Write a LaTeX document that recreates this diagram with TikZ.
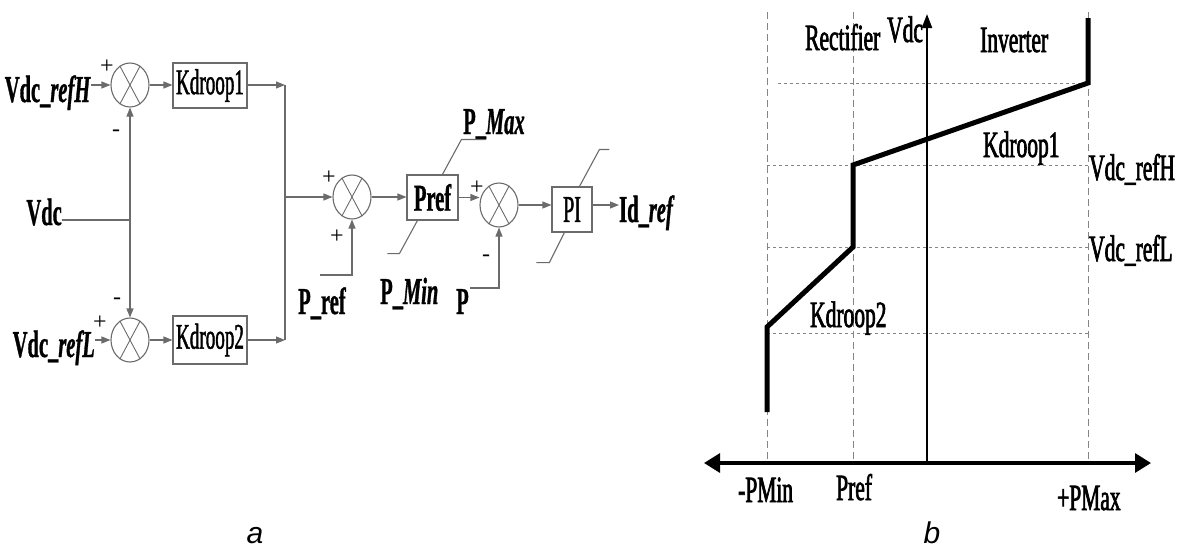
\documentclass[tikz,border=0pt]{standalone}
\usepackage{fontspec}
\setmainfont{Liberation Serif}
\newfontfamily\lfont[FakeStretch=0.54, FakeBold=0.8]{Liberation Serif}
\newfontfamily\bxfont[FakeStretch=0.53, FakeBold=1.2]{Liberation Serif}
\newfontfamily\rfont[FakeStretch=0.58, FakeBold=1.8]{Liberation Serif}
\newfontfamily\sgnfont{Liberation Serif}
\newfontfamily\capfont{Liberation Sans}
\usetikzlibrary{arrows.meta,shapes.geometric,calc}
\definecolor{lc}{gray}{0.42}
\definecolor{dc}{gray}{0.52}
\tikzset{
  arr/.style={-{Triangle[length=9pt,width=7pt]}},
  thin line/.style={draw=lc, line width=1.1pt},
  sum/.style={ellipse, draw=lc, line width=1.1pt, minimum width=38pt, minimum height=44pt, inner sep=0pt},
  blk/.style={draw=lc, line width=1.1pt, inner sep=0pt},
  lbl/.style={inner sep=0pt, font=\lfont\bfseries\fontsize{38}{40}\selectfont},
  boxtxt/.style={font=\bxfont\fontsize{36}{38}\selectfont},
  sgn/.style={inner sep=0pt, font=\sgnfont\fontsize{24}{26}\selectfont},
  clbl/.style={inner sep=0pt, font=\rfont\fontsize{37}{39}\selectfont},
  vdash/.style={draw=dc, line width=0.9pt, dash pattern=on 7pt off 4pt},
  hdash/.style={draw=dc, line width=0.9pt, dash pattern=on 3pt off 3pt},
  curve/.style={draw=black, line width=5pt, line join=miter},
  figcap/.style={inner sep=0pt, font=\capfont\itshape\fontsize{30}{32}\selectfont}
}
\begin{document}
\begin{tikzpicture}[x=1pt,y=-1pt]
\useasboundingbox (0,0) rectangle (1177,549);
% ---------------- left: block diagram ----------------
\node[sum] (s1) at (130,85) {};
\node[sum] (s2) at (130,340) {};
\node[sum] (s3) at (352,197) {};
\node[sum] (s4) at (499,205) {};
\foreach \n in {s1,s2,s3,s4}{
  \draw[draw=lc, line width=0.9pt] (\n.62) -- (\n.242) (\n.118) -- (\n.298);
}
\node[blk, boxtxt, minimum width=74pt, minimum height=45pt] (k1) at (210,85.5) {Kdroop1};
\node[blk, boxtxt, minimum width=74pt, minimum height=48pt] (k2) at (210,340) {Kdroop2};
\node[blk, lbl, minimum width=51pt, minimum height=45pt] (pref) at (432.5,197.5) {Pref};
\node[blk, boxtxt, minimum width=40pt, minimum height=45pt, font=\bxfont\fontsize{38}{40}\selectfont] (pi) at (572,209.5) {PI};

\node[lbl, anchor=base east] (vh) at (91,102) {Vdc\_\textit{refH}};
\node[lbl, anchor=base east] (vdc) at (62,225) {Vdc};
\node[lbl, anchor=base east] (vl) at (95,357) {Vdc\_\textit{refL}};
\node[lbl, anchor=base west] (pr) at (298,314) {P\_ref};
\node[lbl, anchor=base west] (pmax) at (463,134) {P\_\textit{Max}};
\node[lbl, anchor=base west] (pmin) at (380,304) {P\_\textit{Min}};
\node[lbl, anchor=base west] (pp) at (456,314) {P};
\node[lbl, anchor=base west] (idr) at (619,222) {Id\_\textit{ref}};

\coordinate (vj) at (130,220);
\coordinate (j1) at (285,85);
\coordinate (j2) at (285,340);
\coordinate (j3) at (285,197);
\coordinate (prc) at (320,275);
\coordinate (pc) at (470,288);

\draw[thin line, arr] (vh.east |- s1) -- (s1.west);
\draw[thin line, arr] (vl.east |- s2) -- (s2.west);
\draw[thin line] (vdc.east |- vj) -- (vj);
\draw[thin line, arr] (vj) -- (s1.south);
\draw[thin line, arr] (vj) -- (s2.north);
\draw[thin line, arr] (s1.east) -- (s1.east -| k1.west);
\draw[thin line, arr] (s2.east) -- (s2.east -| k2.west);
\draw[thin line, arr] (k1.east |- j1) -- (j1);
\draw[thin line, arr] (k2.east |- j2) -- (j2);
\draw[thin line] (j1) -- (j2);
\draw[thin line, arr] (j3) -- (s3.west);
\draw[thin line, arr] (prc) -| (s3.south);
\draw[thin line, arr] (s3.east) -- (s3.east -| pref.west);
\draw[thin line, arr] (pref.east) -- (pref.east -| s4.west);
\draw[thin line, arr] (pc) -| (s4.south);
\draw[thin line, arr] (s4.east) -- (s4.east -| pi.west);
\draw[thin line, arr] (pi.east |- s4) -- (pi.east |- s4 -| idr.west);
% saturation marks
\draw[thin line] ($(pref.north west)+(36,0)$) -- ++(19,-35) -- ++(23,0);
\draw[thin line] ($(pref.south west)+(11,0)$) -- ++(-18,33) -- ++(-12,0);
\draw[thin line] ($(pi.north west)+(28,0)$) -- ++(20,-37) -- ++(10,0);
\draw[thin line] ($(pi.south west)+(13,0)$) -- ++(-15,30) -- ++(-13,0);
% signs
\node[sgn] (p1) at (107,67) {+};
\node[sgn] (m1) at (116,133) {-};
\node[sgn] (p2) at (100,323) {+};
\node[sgn] (m2) at (117,301) {-};
\node[sgn] (p3) at (329,178) {+};
\node[sgn] (p3b) at (337,237) {+};
\node[sgn] (p4) at (477,188) {+};
\node[sgn] (m4) at (486,258) {-};
% ---------------- right: droop characteristic ----------------
\draw[vdash] (767,12) -- (767,463);
\draw[vdash] (853,12) -- (853,463);
\draw[vdash] (1088,12) -- (1088,463);
\draw[hdash] (778,83) -- (1088,83);
\draw[hdash] (767,165) -- (1088,165);
\draw[hdash] (767,247) -- (1088,247);
\draw[hdash] (767,333) -- (1088,333);
\draw[line width=2.2pt, -{Triangle[length=14pt,width=10pt]}] (927,463) -- (927,14);
\draw[line width=3.2pt, {Triangle[length=16pt,width=19pt]}-{Triangle[length=16pt,width=19pt]}] (704,463) -- (1151,463);
\draw[curve] (767,412) -- (767,327) -- (853,247) -- (853,165) -- (1088,83) -- (1088,18);

\node[clbl, anchor=base west] (rect) at (805,50) {Rectifier};
\node[clbl, anchor=base west] (vdcax) at (887,42) {Vdc};
\node[clbl, anchor=base west] (inv) at (980,52) {Inverter};
\node[clbl, anchor=base west] (kd1) at (983,157) {Kdroop1};
\node[clbl, anchor=base west] (vrh) at (1089,180) {Vdc\_refH};
\node[clbl, anchor=base west] (vrl) at (1089,261) {Vdc\_refL};
\node[clbl, anchor=base west] (kd2) at (810,327) {Kdroop2};
\node[clbl, anchor=base west] (pminl) at (738,502) {-PMin};
\node[clbl, anchor=base west] (prefl) at (836,500) {Pref};
\node[clbl, anchor=base west] (pmaxl) at (1057,510) {+PMax};

\node[figcap, anchor=base] (ca) at (255,543) {a};
\node[figcap, anchor=base] (cb) at (932,543) {b};
\end{tikzpicture}
\end{document}
